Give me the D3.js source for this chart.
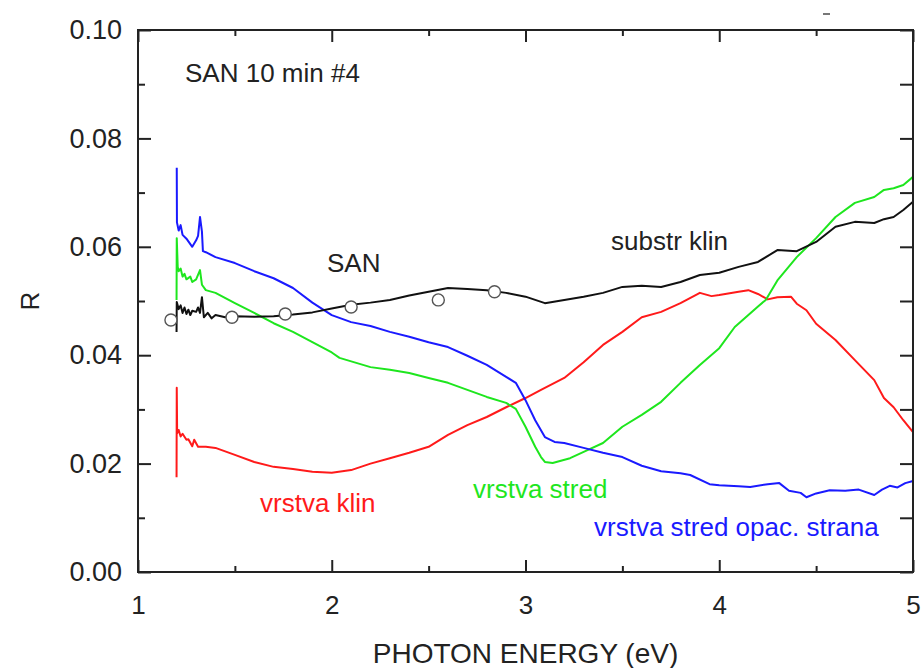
<!DOCTYPE html>
<html>
<head>
<meta charset="utf-8">
<script src="https://cdn.jsdelivr.net/npm/d3@7"></script>
<style>
  html, body { margin: 0; padding: 0; background: #fff; }
  svg { display: block; }
  text { font-family: "Liberation Sans", Arial, sans-serif; }
</style>
</head>
<body>
<svg id="chart" width="921" height="668"></svg>
<script>
// Reflectance spectra R(E) of sample SAN 10 min #4
const xTicks = [1, 2, 3, 4, 5];
const xMinor = [1.5, 2.5, 3.5, 4.5];
const yTicks = [0.00, 0.02, 0.04, 0.06, 0.08, 0.10];
const yMinor = [0.01, 0.03, 0.05, 0.07, 0.09];

// substrate wedge (black)
const substrE = [1.199, 1.200, 1.21, 1.22, 1.23, 1.24, 1.25, 1.26, 1.27, 1.28, 1.30, 1.31, 1.32, 1.33, 1.34, 1.36, 1.38, 1.40, 1.45, 1.5, 1.6, 1.7, 1.8, 1.9, 2.0, 2.1, 2.2, 2.3, 2.4, 2.5, 2.6, 2.7, 2.8, 2.9, 3.0, 3.1, 3.2, 3.3, 3.4, 3.5, 3.6, 3.7, 3.8, 3.9, 4.0, 4.1, 4.2, 4.3, 4.4, 4.5, 4.6, 4.7, 4.8, 4.85, 4.9, 4.95, 5.0];
const substrR = [0.0443, 0.0498, 0.0485, 0.0492, 0.0478, 0.0488, 0.0476, 0.0484, 0.0474, 0.0482, 0.0480, 0.0488, 0.0478, 0.0507, 0.0470, 0.0478, 0.0468, 0.0474, 0.0470, 0.0472, 0.0471, 0.0472, 0.0475, 0.0479, 0.0486, 0.0493, 0.0497, 0.0502, 0.0510, 0.0517, 0.0524, 0.0522, 0.0520, 0.0515, 0.0508, 0.0496, 0.0502, 0.0508, 0.0515, 0.0526, 0.0528, 0.0526, 0.0535, 0.0548, 0.0552, 0.0563, 0.0572, 0.0594, 0.0592, 0.0609, 0.0637, 0.0646, 0.0644, 0.0651, 0.0655, 0.0668, 0.0683];

// layer, centre, opposite side (blue)
const opacE = [1.200, 1.201, 1.21, 1.22, 1.23, 1.25, 1.27, 1.28, 1.30, 1.31, 1.32, 1.33, 1.335, 1.35, 1.4, 1.5, 1.6, 1.7, 1.8, 1.9, 2.0, 2.1, 2.2, 2.3, 2.4, 2.5, 2.6, 2.7, 2.8, 2.9, 2.95, 3.0, 3.05, 3.1, 3.15, 3.2, 3.3, 3.4, 3.5, 3.6, 3.7, 3.8, 3.85, 3.95, 4.0, 4.1, 4.16, 4.25, 4.31, 4.36, 4.42, 4.45, 4.5, 4.57, 4.65, 4.72, 4.80, 4.84, 4.88, 4.92, 4.96, 5.0];
const opacR = [0.0746, 0.0645, 0.0630, 0.0640, 0.0622, 0.0615, 0.0605, 0.0600, 0.0612, 0.0620, 0.0655, 0.0628, 0.0592, 0.0590, 0.0581, 0.0570, 0.0555, 0.0542, 0.0524, 0.0497, 0.0474, 0.0461, 0.0454, 0.0443, 0.0434, 0.0424, 0.0415, 0.0399, 0.0382, 0.0360, 0.0349, 0.0317, 0.0280, 0.0249, 0.0240, 0.0238, 0.0229, 0.0220, 0.0212, 0.0196, 0.0186, 0.0182, 0.0179, 0.0162, 0.0160, 0.0158, 0.0157, 0.0162, 0.0164, 0.0150, 0.0146, 0.0138, 0.0145, 0.0151, 0.0150, 0.0152, 0.0142, 0.0152, 0.0159, 0.0156, 0.0164, 0.0168];

// layer, centre (green)
const stredE = [1.199, 1.200, 1.205, 1.21, 1.22, 1.23, 1.24, 1.25, 1.27, 1.28, 1.30, 1.32, 1.33, 1.35, 1.4, 1.5, 1.6, 1.7, 1.8, 1.9, 2.0, 2.04, 2.2, 2.3, 2.4, 2.5, 2.6, 2.7, 2.8, 2.9, 2.95, 3.0, 3.05, 3.08, 3.1, 3.14, 3.23, 3.32, 3.4, 3.5, 3.6, 3.7, 3.8, 3.9, 4.0, 4.08, 4.2, 4.24, 4.3, 4.4, 4.5, 4.6, 4.7, 4.8, 4.85, 4.9, 4.95, 5.0];
const stredR = [0.0502, 0.0616, 0.0563, 0.0555, 0.0560, 0.0545, 0.0550, 0.0540, 0.0545, 0.0535, 0.0540, 0.0557, 0.0530, 0.0520, 0.0515, 0.0496, 0.0478, 0.0459, 0.0443, 0.0424, 0.0405, 0.0395, 0.0378, 0.0373, 0.0367, 0.0358, 0.0349, 0.0336, 0.0323, 0.0312, 0.0301, 0.0268, 0.0231, 0.0212, 0.0203, 0.0201, 0.0210, 0.0225, 0.0238, 0.0268, 0.0290, 0.0314, 0.0349, 0.0382, 0.0413, 0.0452, 0.0490, 0.0502, 0.0538, 0.0581, 0.0616, 0.0655, 0.0681, 0.0692, 0.0705, 0.0708, 0.0714, 0.0729];

// layer wedge (red)
const klinE = [1.199, 1.200, 1.202, 1.21, 1.22, 1.23, 1.25, 1.26, 1.28, 1.29, 1.31, 1.35, 1.4, 1.5, 1.6, 1.7, 1.8, 1.9, 2.0, 2.1, 2.2, 2.3, 2.4, 2.5, 2.6, 2.7, 2.8, 2.9, 3.0, 3.08, 3.2, 3.3, 3.4, 3.5, 3.6, 3.7, 3.8, 3.9, 3.96, 4.0, 4.1, 4.15, 4.2, 4.25, 4.3, 4.37, 4.4, 4.45, 4.5, 4.6, 4.7, 4.8, 4.85, 4.9, 4.95, 5.0];
const klinR = [0.0175, 0.0340, 0.0256, 0.0262, 0.0250, 0.0255, 0.0244, 0.0245, 0.0232, 0.0244, 0.0231, 0.0231, 0.0229, 0.0216, 0.0203, 0.0194, 0.0190, 0.0185, 0.0183, 0.0188, 0.0200, 0.0210, 0.0220, 0.0231, 0.0253, 0.0271, 0.0286, 0.0304, 0.0321, 0.0336, 0.0358, 0.0387, 0.0419, 0.0443, 0.0470, 0.0480, 0.0496, 0.0515, 0.0509, 0.0511, 0.0517, 0.0520, 0.0513, 0.0503, 0.0507, 0.0508, 0.0495, 0.0483, 0.0458, 0.0428, 0.0391, 0.0354, 0.0321, 0.0304, 0.0280, 0.0258];

// SAN reference points (open circles)
const sanE = [1.17, 1.485, 1.76, 2.10, 2.55, 2.84];
const sanR = [0.0465, 0.0470, 0.0476, 0.0489, 0.0502, 0.0517];

const svg = d3.select("#chart");
const L = 138, R = 913, T = 30, B = 572;
const x = d3.scaleLinear().domain([1, 5]).range([L, R]);
const y = d3.scaleLinear().domain([0, 0.10]).range([B, T]);
const ink = "#222";

const line = d3.line().x(d => x(d[0])).y(d => y(d[1]));
const zip = (a, b) => a.map((v, i) => [v, b[i]]);

const series = [
  { e: klinE, r: klinR, color: "#ff1a1a" },
  { e: stredE, r: stredR, color: "#1ee61e" },
  { e: opacE, r: opacR, color: "#1a1aff" },
  { e: substrE, r: substrR, color: "#111" }
];

const plot = svg.append("g");
series.forEach(s => {
  plot.append("path")
    .datum(zip(s.e, s.r))
    .attr("fill", "none")
    .attr("stroke", s.color)
    .attr("stroke-width", 2)
    .attr("stroke-linejoin", "round")
    .attr("d", line);
});

plot.selectAll("circle.san")
  .data(zip(sanE, sanR))
  .join("circle")
  .attr("class", "san")
  .attr("cx", d => x(d[0]))
  .attr("cy", d => y(d[1]))
  .attr("r", 6)
  .attr("fill", "#fff")
  .attr("stroke", "#555")
  .attr("stroke-width", 1.4);

// axes: ticks point inward on every side
function styleAxis(size) {
  return g => {
    g.select(".domain").remove();
    g.selectAll("line").attr("stroke", ink).attr("stroke-width", 2);
    g.selectAll("text").attr("fill", ink).style("font-size", size + "px")
      .style("font-family", "'Liberation Sans', Arial, sans-serif");
  };
}

svg.append("g").attr("transform", `translate(0,${B})`)
  .call(d3.axisBottom(x).tickValues(xTicks).tickFormat(d3.format("d")).tickSize(-12).tickPadding(24))
  .call(styleAxis(26));
svg.append("g").attr("transform", `translate(0,${B})`)
  .call(d3.axisBottom(x).tickValues(xMinor).tickFormat("").tickSize(-6))
  .call(styleAxis(26));
svg.append("g").attr("transform", `translate(0,${T})`)
  .call(d3.axisTop(x).tickValues(xTicks).tickFormat("").tickSize(-12))
  .call(styleAxis(26));
svg.append("g").attr("transform", `translate(0,${T})`)
  .call(d3.axisTop(x).tickValues(xMinor).tickFormat("").tickSize(-6))
  .call(styleAxis(26));

svg.append("g").attr("transform", `translate(${L},0)`)
  .call(d3.axisLeft(y).tickValues(yTicks).tickFormat(d3.format(".2f")).tickSize(-13).tickPadding(16))
  .call(styleAxis(27));
svg.append("g").attr("transform", `translate(${L},0)`)
  .call(d3.axisLeft(y).tickValues(yMinor).tickFormat("").tickSize(-7))
  .call(styleAxis(27));
svg.append("g").attr("transform", `translate(${R},0)`)
  .call(d3.axisRight(y).tickValues(yTicks.concat(yMinor)).tickFormat("").tickSize(-13))
  .call(styleAxis(27));

// frame
svg.append("rect")
  .attr("x", L).attr("y", T)
  .attr("width", R - L).attr("height", B - T)
  .attr("fill", "none").attr("stroke", ink).attr("stroke-width", 2);

// axis titles
svg.append("text")
  .attr("x", (L + R) / 2).attr("y", 663)
  .attr("text-anchor", "middle")
  .attr("fill", ink).style("font-size", "28px")
  .text("PHOTON ENERGY (eV)");
svg.append("text")
  .attr("transform", `translate(39,${(T + B) / 2}) rotate(-90)`)
  .attr("text-anchor", "middle")
  .attr("fill", ink).style("font-size", "26px")
  .text("R");

// annotations
const notes = [
  { t: "SAN 10 min #4", x: 185, y: 82, c: ink },
  { t: "SAN", x: 327, y: 272, c: ink },
  { t: "substr klin", x: 611, y: 250, c: ink },
  { t: "vrstva klin", x: 260, y: 512, c: "#ff1a1a" },
  { t: "vrstva stred", x: 473, y: 498, c: "#1ee61e" },
  { t: "vrstva stred opac. strana", x: 594, y: 536, c: "#1a1aff" }
];
svg.selectAll("text.note")
  .data(notes)
  .join("text")
  .attr("class", "note")
  .attr("x", d => d.x).attr("y", d => d.y)
  .attr("fill", d => d.c)
  .style("font-size", "26px")
  .text(d => d.t);

// small stray mark above the frame
svg.append("line")
  .attr("x1", 823).attr("x2", 830).attr("y1", 14).attr("y2", 14)
  .attr("stroke", "#777").attr("stroke-width", 2);
</script>
</body>
</html>
